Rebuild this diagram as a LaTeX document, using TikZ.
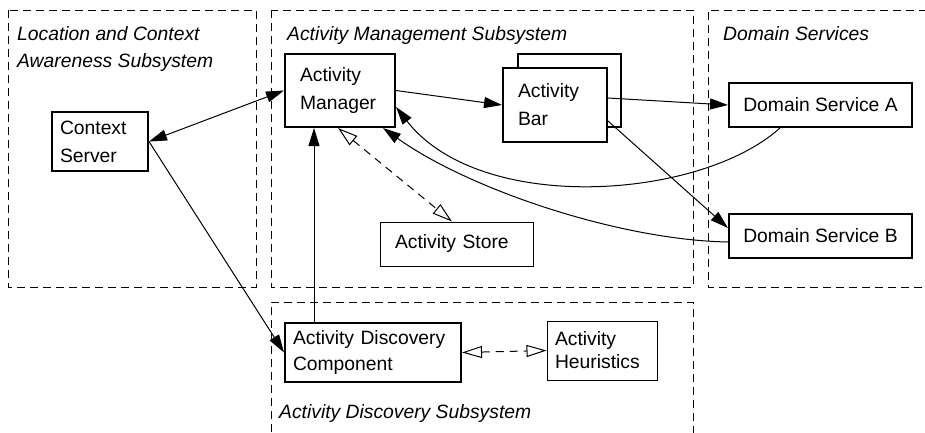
\documentclass[tikz,border=0pt]{standalone}
\usepackage{fontspec}
\setmainfont{Liberation Sans}
\usetikzlibrary{arrows.meta,calc}
\begin{document}
\begin{tikzpicture}[x=1pt,y=-1pt,
  region/.style={draw, line width=1pt, dash pattern=on 8pt off 5pt},
  thickbox/.style={draw, line width=2pt, fill=white, inner ysep=0pt, align=left, font=\fontsize{19.3}{28}\selectfont},
  thinbox/.style={draw, line width=1pt, fill=white, inner ysep=0pt, align=left, font=\fontsize{19.3}{28}\selectfont},
  lab/.style={font=\fontsize{19.3}{27}\selectfont\itshape, anchor=base west, inner sep=0pt},
  conn/.style={line width=1pt},
  solidarrow/.style={-{Triangle[length=18pt,width=11pt]}},
  soliddouble/.style={{Triangle[length=18pt,width=11pt]}-{Triangle[length=18pt,width=11pt]}},
  opendouble/.style={{Triangle[open,length=20pt,width=12pt,line width=1pt]}-{Triangle[open,length=20pt,width=12pt,line width=1pt]}, dash pattern=on 8pt off 6pt}
]
\useasboundingbox (0,0) rectangle (925,432);

% subsystem regions
\draw[region] (8,10) rectangle (256,287);
\draw[region] (271,10) rectangle (693,287);
\draw[region] (940,10) -| (708,287) -- (940,287);
\draw[region] (271,445) |- (693,302) -- (693,445);

% region labels
\node[lab] (l1) at (17,40) {Location and Context};
\node[lab] (l2) at (17,67) {Awareness Subsystem};
\node[lab] (l3) at (287,40) {Activity Management Subsystem};
\node[lab] (l4) at (723,40) {Domain Services};
\node[lab] (l5) at (279,418) {Activity Discovery Subsystem};

% components
\node[thickbox, minimum width=96pt, minimum height=59pt, text width=80pt, inner xsep=8pt] (cs) at (100,141.5) {Context\\Server};
\node[thickbox, minimum width=110pt, minimum height=73pt, text width=80pt, inner xsep=15pt] (am) at (340,90.5) {Activity\\Manager};
\node[thickbox, minimum width=103pt, minimum height=73pt] (abback) at (569.5,90.5) {};
\node[thickbox, minimum width=104pt, minimum height=74pt, text width=74pt, inner xsep=15pt] (ab) at (555,105) {Activity\\Bar};
\node[thinbox, minimum width=153pt, minimum height=44pt, text width=123pt, inner xsep=15pt] (as) at (456.5,244) {Activity Store};
\node[thickbox, minimum width=183pt, minimum height=44pt, align=center] (dsa) at (820.5,105) {Domain Service A};
\node[thickbox, minimum width=183pt, minimum height=44pt, align=center] (dsb) at (820.5,236) {Domain Service B};
\node[thickbox, minimum width=176pt, minimum height=59pt, text width=160pt, inner xsep=8pt, font=\fontsize{19.3}{25}\selectfont] (adc) at (373,352.5) {Activity Discovery\\Component};
\node[thinbox, minimum width=110pt, minimum height=59pt, text width=94pt, inner xsep=8pt, font=\fontsize{19.3}{23}\selectfont] (ah) at (602,350.5) {Activity\\Heuristics};

% connectors
\draw[conn, soliddouble] (cs.east) -- (am.west);
\draw[conn, solidarrow] (cs.east) -- (adc.west);
\draw[conn, solidarrow] ([xshift=30pt]adc.north west) -- ([xshift=30pt]am.south west);
\draw[conn, solidarrow] (am.east) -- (ab.west);
\draw[conn, solidarrow] ([yshift=7pt]ab.east) -- (dsa.west);
\draw[conn, solidarrow] ([yshift=-16pt]ab.east) -- ([yshift=8pt]dsb.west);
\draw[conn, solidarrow] ([xshift=-40.5pt]dsa.south) .. controls (700,200) and (480,215) .. ([yshift=-16.5pt]am.east);
\draw[conn, solidarrow] ([yshift=-6pt]dsb.west) .. controls (620,240) and (470,190) .. ([xshift=-13pt]am.south east);
\draw[conn, opendouble] ([xshift=-2pt]am.south) -- ([xshift=-4.5pt]as.north);
\draw[conn, opendouble] (adc.east) -- (ah.west);
\end{tikzpicture}
\end{document}
